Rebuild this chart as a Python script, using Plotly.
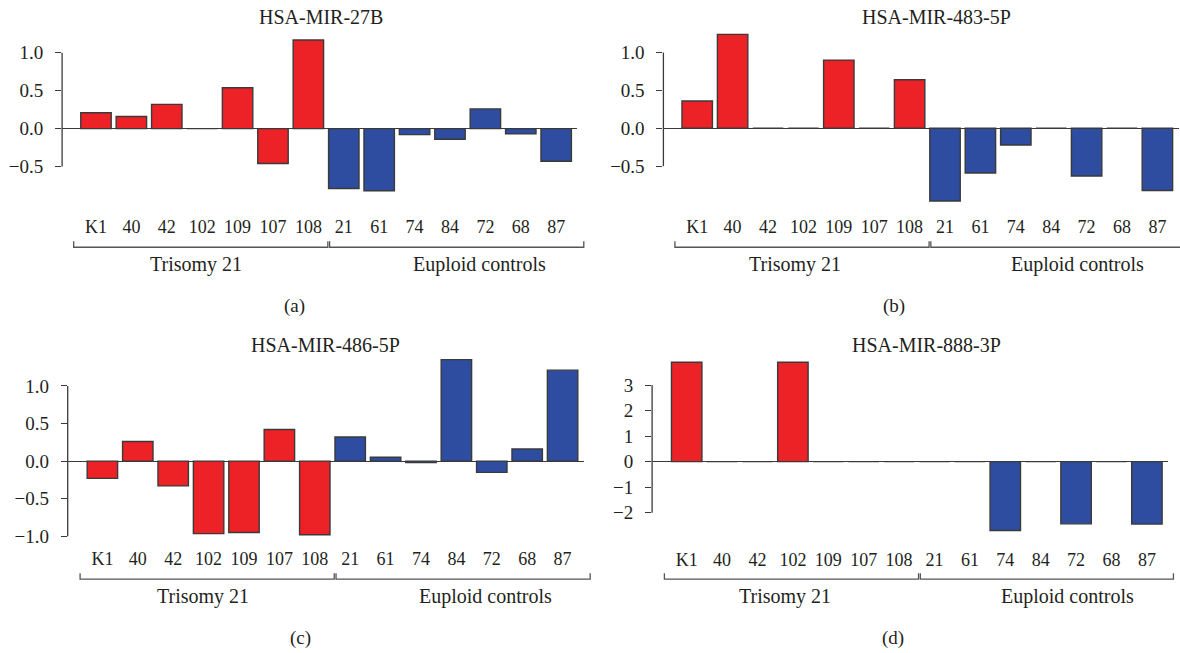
import plotly.graph_objects as go

# ---------------- data ----------------
samples = ["K1", "40", "42", "102", "109", "107", "108",
           "21", "61", "74", "84", "72", "68", "87"]
groups = ["Trisomy 21"] * 7 + ["Euploid controls"] * 7
group_names = ["Trisomy 21", "Euploid controls"]

titles = ["HSA-MIR-27B", "HSA-MIR-483-5P", "HSA-MIR-486-5P", "HSA-MIR-888-3P"]
panel_tags = ["(a)", "(b)", "(c)", "(d)"]

mir_27b = [0.21, 0.16, 0.32, 0.0, 0.54, -0.46, 1.17,
           -0.79, -0.82, -0.08, -0.14, 0.26, -0.07, -0.43]
mir_483_5p = [0.36, 1.24, 0.0, 0.0, 0.90, 0.0, 0.64,
              -0.96, -0.59, -0.22, 0.0, -0.63, 0.0, -0.82]
mir_486_5p = [-0.23, 0.26, -0.33, -0.965, -0.95, 0.42, -0.98,
              0.32, 0.05, -0.02, 1.35, -0.15, 0.16, 1.21]
mir_888_3p = [3.89, 0.0, 0.0, 3.89, 0.0, 0.0, 0.0,
              0.0, 0.0, -2.70, 0.0, -2.44, 0.0, -2.45]

ticks_a = [-0.5, 0.0, 0.5, 1.0]
ticks_b = [-0.5, 0.0, 0.5, 1.0]
ticks_c = [-1.0, -0.5, 0.0, 0.5, 1.0]
ticks_d = [-2, -1, 0, 1, 2, 3]

series = [mir_27b, mir_483_5p, mir_486_5p, mir_888_3p]
tick_sets = [ticks_a, ticks_b, ticks_c, ticks_d]
tick_formats = [".1f", ".1f", ".1f", "d"]

# ---------------- layout geometry (pixels) ----------------
W, H = 1180, 653
PITCH = 35.4
RED = "#EC2227"
BLUE = "#2E4DA0"
EDGE = "#3a3a3a"
TXT = "#231f20"
FONT = "Liberation Serif"

panels = [
    dict(ax=62.1, xl=-0.957, zero=129.0, ppu=76.0, top=28, bot=214,
         tx=321, ty=17, gx=294, gy=307, lx=[196, 479], ly=265, by=248, bx_end=13.78),
    dict(ax=663.4, xl=-0.955, zero=128.7, ppu=76.0, top=28, bot=214,
         tx=936, ty=17, gx=894, gy=307, lx=[795, 1077], ly=265, by=248, bx_end=13.78),
    dict(ax=67.7, xl=-0.98, zero=462.5, ppu=75.4, top=352, bot=547,
         tx=326, ty=346, gx=301, gy=640, lx=[203, 485], ly=598, by=581, bx_end=13.78),
    dict(ax=652.1, xl=-0.977, zero=463.0, ppu=25.6, top=352, bot=548,
         tx=926, ty=346, gx=893, gy=640, lx=[785, 1067], ly=598, by=581, bx_end=13.75),
]
X_RIGHT = 13.6

def px(x):
    return x / W

def py(y):
    return 1 - y / H

fig = go.Figure()
shapes = []
annotations = []
colors = [RED if g == group_names[0] else BLUE for g in groups]
idx = list(range(len(samples)))

for i, (p, vals, tks, tf) in enumerate(zip(panels, series, tick_sets, tick_formats)):
    n = "" if i == 0 else str(i + 1)
    xa = "x" + n
    ya = "y" + n
    right_px = p["ax"] + (X_RIGHT - p["xl"]) * PITCH
    fig.add_trace(go.Bar(
        x=idx, y=vals, xaxis=xa, yaxis=ya,
        marker=dict(color=colors, line=dict(color=EDGE, width=1.4)),
        width=0.86, showlegend=False, hoverinfo="x+y",
    ))
    fig.update_layout(**{
        "xaxis" + n: dict(
            domain=[px(p["ax"]), min(px(right_px), 1.0)],
            range=[p["xl"], X_RIGHT], anchor=ya,
            tickmode="array", tickvals=idx, ticktext=samples,
            ticks="", showline=False, showgrid=False, zeroline=False,
            tickfont=dict(family=FONT, size=18, color=TXT),
            ticklabelstandoff=1,
        ),
        "yaxis" + n: dict(
            domain=[py(p["bot"]), py(p["top"])],
            range=[-(p["bot"] - p["zero"]) / p["ppu"], (p["zero"] - p["top"]) / p["ppu"]],
            anchor=xa,
            tickmode="array", tickvals=tks, tickformat=tf,
            ticks="outside", ticklen=6, tickwidth=1.2, tickcolor=EDGE,
            showline=False, showgrid=False,
            zeroline=True, zerolinecolor=EDGE, zerolinewidth=1.3,
            tickfont=dict(family=FONT, size=19, color=TXT),
            ticklabelstandoff=8,
        ),
    })

    # y axis line spanning the tick range only
    shapes.append(dict(type="line", xref="paper", yref="paper",
                       x0=px(p["ax"]), x1=px(p["ax"]),
                       y0=py(p["zero"] - min(tks) * p["ppu"]),
                       y1=py(p["zero"] - max(tks) * p["ppu"]),
                       line=dict(color=EDGE, width=1.3)))

    # group brackets
    def ix(v):
        return p["ax"] + (v - p["xl"]) * PITCH
    spans = [(-0.63, 6.55), (6.6, p["bx_end"])]
    for (a, b) in spans:
        x0, x1 = ix(a), ix(b)
        y0 = p["by"]
        shapes.append(dict(type="path", xref="paper", yref="paper",
                           path=f"M {px(x0)} {py(y0 - 6)} L {px(x0)} {py(y0)} "
                                f"L {px(x1)} {py(y0)} L {px(x1)} {py(y0 - 6)}",
                           line=dict(color="#555555", width=1.3)))
    for gname, gx in zip(group_names, p["lx"]):
        annotations.append(dict(text=gname, x=px(gx), y=py(p["ly"]), xref="paper", yref="paper",
                                xanchor="center", yanchor="middle", showarrow=False,
                                font=dict(family=FONT, size=20, color=TXT)))
    annotations.append(dict(text=titles[i], x=px(p["tx"]), y=py(p["ty"]), xref="paper", yref="paper",
                            xanchor="center", yanchor="middle", showarrow=False,
                            font=dict(family=FONT, size=20, color=TXT)))
    annotations.append(dict(text=panel_tags[i], x=px(p["gx"]), y=py(p["gy"]), xref="paper", yref="paper",
                            xanchor="center", yanchor="middle", showarrow=False,
                            font=dict(family=FONT, size=19, color=TXT)))

fig.update_layout(
    width=W, height=H,
    margin=dict(l=0, r=0, t=0, b=0),
    paper_bgcolor="white", plot_bgcolor="white",
    shapes=shapes, annotations=annotations,
    bargap=0.14,
)

fig.write_html("out.html", config={"displayModeBar": False},
               post_script="document.body.style.margin='0';document.body.style.overflow='hidden';")
